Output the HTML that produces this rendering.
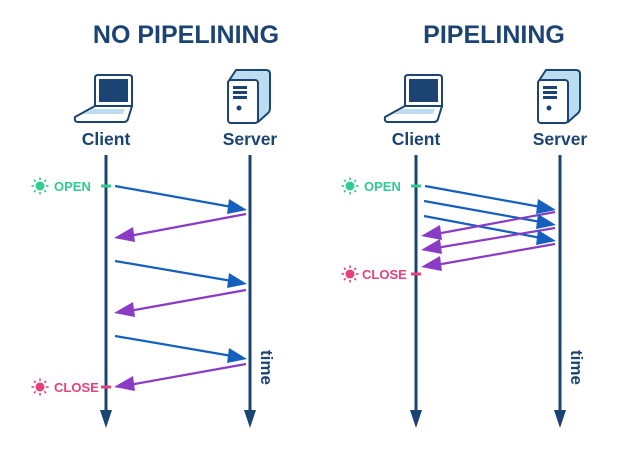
<!DOCTYPE html>
<html><head><meta charset="utf-8"><style>
body{margin:0;background:#fff}
svg{display:block}
text{font-family:"Liberation Sans",sans-serif;font-weight:bold}
</style></head><body>
<svg width="632" height="450" viewBox="0 0 632 450" xmlns="http://www.w3.org/2000/svg">
<defs>
<g id="icons">
  <path d="M405,78 q0,-3 3,-3 h31 q3,0 3,3 v28 h-37z" fill="#fff" stroke="#1b4473" stroke-width="2"/>
  <rect x="409" y="79" width="29" height="23" fill="#1b4473"/>
  <path d="M385,117 l20,-11 h37 l-4,13 q-1,3 -4,3 h-46 q-4,0 -3,-5z" fill="#fff" stroke="#1b4473" stroke-width="2" stroke-linejoin="round"/>
  <path d="M393,114 l10,-5 h32 l-2,5z" fill="#bcdcf0"/>
  <path d="M538,82 l8,-12 h30 q4,0 4,4 v34 q0,4 -3,6 l-9,8 z" fill="#bcdcf0" stroke="#1b4473" stroke-width="2" stroke-linejoin="round"/>
  <rect x="538" y="80" width="30" height="43" rx="3" fill="#fff" stroke="#1b4473" stroke-width="2"/>
  <rect x="543" y="86" width="14" height="3" fill="#1b4473"/>
  <rect x="543" y="91" width="14" height="3" fill="#1b4473"/>
  <rect x="543" y="96" width="14" height="3" fill="#1b4473"/>
  <circle cx="549" cy="108" r="2.5" fill="#1b4473"/>
  <text x="416" y="145" font-size="17.5" fill="#1b4473" text-anchor="middle">Client</text>
  <text x="560" y="145" font-size="17.5" fill="#1b4473" text-anchor="middle">Server</text>
  <line x1="416" y1="155" x2="416" y2="412" stroke="#1b4473" stroke-width="3"/>
  <path d="M410,410 h12 l-6,18z" fill="#1b4473"/>
  <line x1="560" y1="155" x2="560" y2="412" stroke="#1b4473" stroke-width="3"/>
  <path d="M554,410 h12 l-6,18z" fill="#1b4473"/>
  <text transform="translate(571,350) rotate(90)" font-size="17" fill="#1b4473">time</text>
</g>
<g id="sunG">
  <circle cx="0" cy="0" r="4" />
  <g stroke-width="1.6">
  <line x1="0" y1="-6" x2="0" y2="-8.5"/><line x1="0" y1="6" x2="0" y2="8.5"/>
  <line x1="-6" y1="0" x2="-8.5" y2="0"/><line x1="6" y1="0" x2="8.5" y2="0"/>
  <line x1="4.3" y1="4.3" x2="6" y2="6"/><line x1="-4.3" y1="-4.3" x2="-6" y2="-6"/>
  <line x1="4.3" y1="-4.3" x2="6" y2="-6"/><line x1="-4.3" y1="4.3" x2="-6" y2="6"/>
  </g>
</g>
</defs>
<text x="186" y="43" font-size="25" fill="#1b4473" text-anchor="middle">NO PIPELINING</text>
<text x="494" y="43" font-size="25" fill="#1b4473" text-anchor="middle">PIPELINING</text>
<use href="#icons" transform="translate(-310,0)"/>
<use href="#icons"/>
<g fill="#2ecc8f" stroke="#2ecc8f"><use href="#sunG" transform="translate(40,186)"/></g>
<text x="54" y="191" font-size="13" fill="#2ecc8f">OPEN</text>
<line x1="101" y1="186" x2="111" y2="186" stroke="#2ecc8f" stroke-width="3"/>
<g fill="#e8407a" stroke="#e8407a"><use href="#sunG" transform="translate(40,387)"/></g>
<text x="54" y="392" font-size="13" fill="#e8407a">CLOSE</text>
<line x1="101" y1="387" x2="111" y2="387" stroke="#e8407a" stroke-width="3"/>
<g fill="#2ecc8f" stroke="#2ecc8f"><use href="#sunG" transform="translate(350,186)"/></g>
<text x="364" y="191" font-size="13" fill="#2ecc8f">OPEN</text>
<line x1="411" y1="186" x2="421" y2="186" stroke="#2ecc8f" stroke-width="3"/>
<g fill="#e8407a" stroke="#e8407a"><use href="#sunG" transform="translate(350,274)"/></g>
<text x="362" y="279" font-size="13" fill="#e8407a">CLOSE</text>
<line x1="411" y1="274" x2="421" y2="274" stroke="#e8407a" stroke-width="3"/>
<g stroke-width="2.2" fill="none">
  <g stroke="#1560bd">
    <line x1="115" y1="186" x2="232" y2="207"/>
    <line x1="115" y1="261" x2="232" y2="281"/>
    <line x1="115" y1="336" x2="232" y2="356"/>
    <line x1="425" y1="186" x2="541" y2="207"/>
    <line x1="424" y1="201" x2="541" y2="222"/>
    <line x1="424" y1="216" x2="541" y2="238"/>
  </g>
  <g stroke="#8a3cc4">
    <line x1="246" y1="214" x2="129" y2="236"/>
    <line x1="246" y1="290" x2="129" y2="311"/>
    <line x1="246" y1="364" x2="129" y2="385"/>
    <line x1="555" y1="212" x2="436" y2="234"/>
    <line x1="555" y1="228" x2="436" y2="248"/>
    <line x1="555" y1="244" x2="436" y2="265"/>
  </g>
</g>
<g fill="#1560bd">
  <path d="M247,210 l-18,-11 l-2,15z"/>
  <path d="M247,284 l-18,-11 l-2,15z"/>
  <path d="M247,359 l-18,-11 l-2,15z"/>
  <path d="M556,210 l-18,-11 l-2,15z"/>
  <path d="M556,225 l-18,-11 l-2,15z"/>
  <path d="M556,241 l-18,-11 l-2,15z"/>
</g>
<g fill="#8a3cc4">
  <path d="M114,238 l19,-11 l2,15z"/>
  <path d="M114,313 l19,-11 l2,15z"/>
  <path d="M114,387 l19,-11 l2,15z"/>
  <path d="M421,236 l19,-11 l2,15z"/>
  <path d="M421,250 l19,-11 l2,15z"/>
  <path d="M421,267 l19,-11 l2,15z"/>
</g>
</svg>
</body></html>
